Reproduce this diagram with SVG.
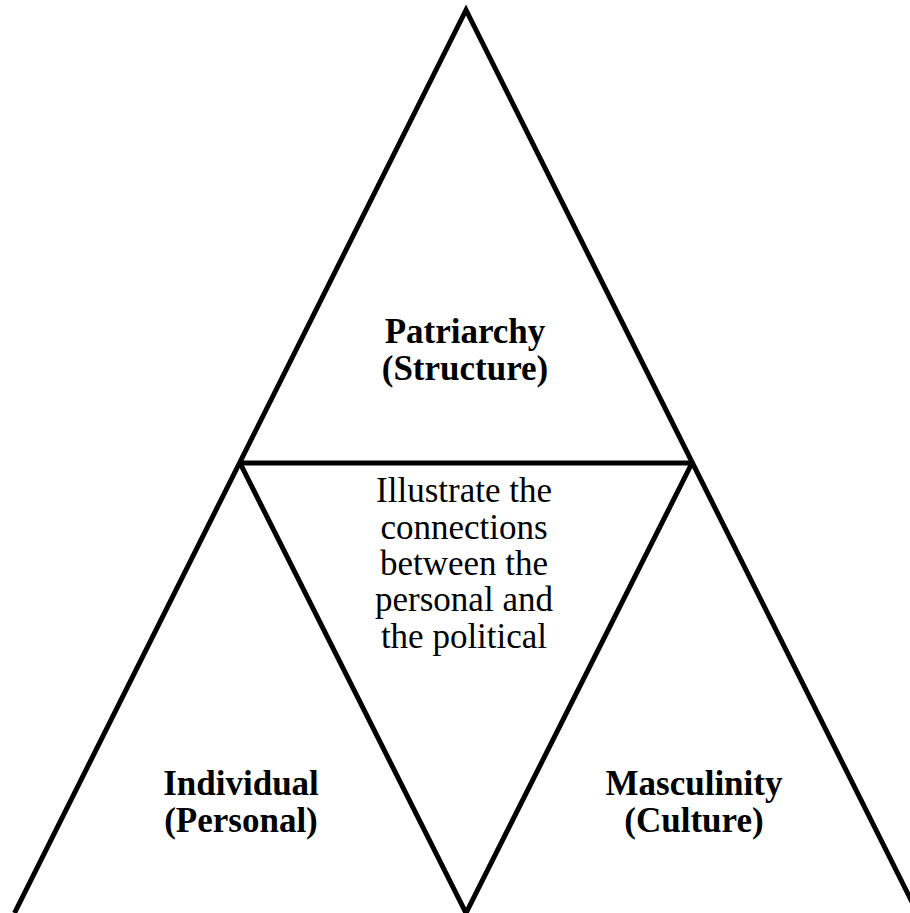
<svg xmlns="http://www.w3.org/2000/svg" width="910" height="913" viewBox="0 0 910 913">
<style>
.ln{fill:none;stroke:#000;stroke-width:5;stroke-linejoin:miter;stroke-miterlimit:10}
.b{font-family:"Liberation Serif","Times New Roman",serif;font-weight:bold;font-size:35px;text-anchor:middle;fill:#000}
.r{font-family:"Liberation Serif","Times New Roman",serif;font-size:35px;text-anchor:middle;fill:#000}
</style>
<rect width="910" height="913" fill="#fff"/>
<g id="connectors">
<polyline class="ln" points="14.5,913 466,10 917.5,913"/>
<line class="ln" x1="240" y1="463" x2="692" y2="463"/>
<polyline class="ln" points="240,463 466,913 692,463"/>
</g>
<g id="patriarchy">
<text class="b" x="465" y="343">Patriarchy</text>
<text class="b" x="465" y="380">(Structure)</text>
</g>
<g id="center">
<text class="r" x="464" y="502">Illustrate the</text>
<text class="r" x="464" y="539">connections</text>
<text class="r" x="464" y="575">between the</text>
<text class="r" x="464" y="611">personal and</text>
<text class="r" x="464" y="648">the political</text>
</g>
<g id="individual">
<text class="b" x="241" y="795">Individual</text>
<text class="b" x="241" y="832">(Personal)</text>
</g>
<g id="masculinity">
<text class="b" x="694" y="795">Masculinity</text>
<text class="b" x="694" y="832">(Culture)</text>
</g>
</svg>
